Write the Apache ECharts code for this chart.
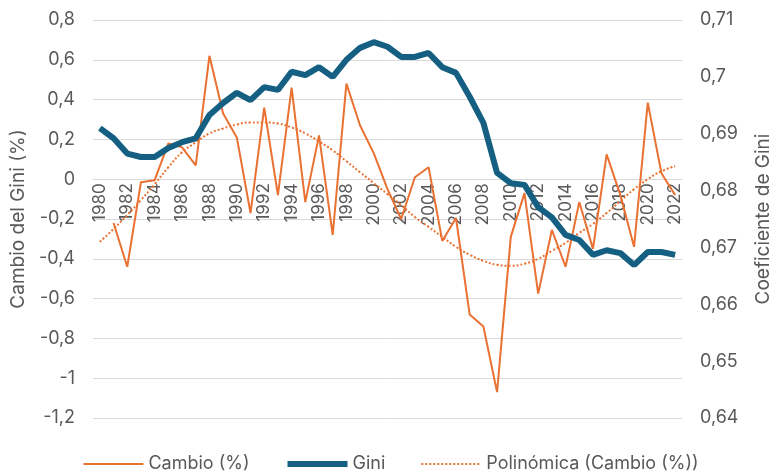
<!DOCTYPE html>
<html>
<head>
<meta charset="utf-8">
<script src="https://cdn.jsdelivr.net/npm/echarts@6/dist/echarts.min.js"></script>
<style>
html,body{margin:0;padding:0;background:#fff;}
#c{width:781px;height:473px;}
</style>
</head>
<body>
<div id="c"></div>
<script>
const years = ['1980','1981','1982','1983','1984','1985','1986','1987','1988','1989','1990','1991','1992','1993','1994','1995','1996','1997','1998','1999','2000','2001','2002','2003','2004','2005','2006','2007','2008','2009','2010','2011','2012','2013','2014','2015','2016','2017','2018','2019','2020','2021','2022'];

const cambio = [null,-0.22,-0.44,-0.015,-0.005,0.18,0.16,0.07,0.62,0.33,0.21,-0.17,0.36,-0.08,0.46,-0.115,0.22,-0.28,0.48,0.27,0.13,-0.05,-0.2,0.01,0.06,-0.31,-0.195,-0.68,-0.74,-1.07,-0.29,-0.07,-0.575,-0.255,-0.44,-0.115,-0.35,0.125,-0.08,-0.34,0.385,0.03,-0.08];

const gini = [0.6910,0.6892,0.6865,0.6859,0.6859,0.6875,0.6885,0.6892,0.6933,0.6954,0.6972,0.6959,0.6982,0.6977,0.7009,0.7003,0.7017,0.7000,0.7030,0.7051,0.7061,0.7053,0.7035,0.7035,0.7042,0.7017,0.7007,0.6965,0.6919,0.6831,0.6813,0.6810,0.6771,0.6753,0.6722,0.6713,0.6687,0.6695,0.6690,0.6669,0.6692,0.6692,0.6687];

const trend = [-0.315,-0.25,-0.18,-0.105,-0.025,0.06,0.135,0.185,0.23,0.255,0.275,0.285,0.285,0.28,0.26,0.23,0.19,0.145,0.09,0.035,-0.02,-0.075,-0.13,-0.19,-0.24,-0.29,-0.34,-0.38,-0.41,-0.43,-0.435,-0.425,-0.40,-0.36,-0.32,-0.27,-0.225,-0.17,-0.11,-0.05,0.0,0.04,0.065];

const ORANGE = '#E97132';
const BLUE = '#156082';
const TXT = '#595959';
const FONT = 'Inter';
const HIDE = { color: 'rgba(0,0,0,0)', borderWidth: 0, opacity: 0 };

const LEFT_MIN = -1.2, LEFT_MAX = 0.8;
const GRID = { left: 93, right: 91, top: 20, bottom: 55 };
const plotH = 473 - GRID.top - GRID.bottom;
// move the category axis up to the zero line of the left axis
const zeroOffset = -((0 - LEFT_MIN) / (LEFT_MAX - LEFT_MIN)) * plotH;

function comma(v, d) {
  return String(+(+v).toFixed(d)).replace('.', ',');
}

const chart = echarts.init(document.getElementById('c'));
chart.setOption({
  animation: false,
  textStyle: { fontFamily: FONT },
  grid: Object.assign({ containLabel: false }, GRID),
  legend: {
    bottom: 0,
    left: 'center',
    padding: 0,
    itemWidth: 60,
    itemHeight: 14,
    itemGap: 35,
    textStyle: { color: TXT, fontSize: 18, fontFamily: FONT },
    data: [
      { name: 'Cambio (%)', itemStyle: HIDE, lineStyle: { width: 2 } },
      { name: 'Gini', itemStyle: HIDE, lineStyle: { width: 6 } },
      { name: 'Polinómica (Cambio (%))', itemStyle: HIDE, lineStyle: { width: 2, type: 'dotted' } }
    ]
  },
  xAxis: {
    type: 'category',
    data: years,
    boundaryGap: true,
    position: 'bottom',
    offset: zeroOffset,
    axisLine: { show: true, onZero: false, lineStyle: { color: '#D9D9D9' } },
    axisTick: { show: false },
    axisLabel: { interval: 1, rotate: 90, color: TXT, fontSize: 17, margin: 4, fontFamily: FONT },
    splitLine: { show: false },
    z: 1
  },
  yAxis: [
    {
      type: 'value',
      min: LEFT_MIN, max: LEFT_MAX, interval: 0.2,
      name: 'Cambio del Gini (%)',
      nameLocation: 'middle',
      nameGap: 65,
      nameTextStyle: { color: TXT, fontSize: 19, fontFamily: FONT },
      axisLine: { show: false },
      axisTick: { show: false },
      axisLabel: { color: TXT, fontSize: 18, margin: 18, formatter: v => comma(v, 1), fontFamily: FONT },
      splitLine: { show: true, lineStyle: { color: '#D9D9D9', width: 1 } }
    },
    {
      type: 'value',
      min: 0.64, max: 0.71, interval: 0.01,
      name: 'Coeficiente de Gini',
      nameLocation: 'middle',
      nameGap: 72,
      nameRotate: 90,
      nameTextStyle: { color: TXT, fontSize: 19, fontFamily: FONT },
      axisLine: { show: false },
      axisTick: { show: false },
      axisLabel: { color: TXT, fontSize: 18, margin: 18, formatter: v => comma(v, 2), fontFamily: FONT },
      splitLine: { show: false }
    }
  ],
  series: [
    {
      name: 'Cambio (%)', type: 'line', yAxisIndex: 0, data: cambio,
      symbol: 'none', connectNulls: false,
      lineStyle: { color: ORANGE, width: 2 }, itemStyle: { color: ORANGE }, z: 3
    },
    {
      name: 'Gini', type: 'line', yAxisIndex: 1, data: gini,
      symbol: 'none',
      lineStyle: { color: BLUE, width: 6 }, itemStyle: { color: BLUE }, z: 4
    },
    {
      name: 'Polinómica (Cambio (%))', type: 'line', yAxisIndex: 0, data: trend,
      symbol: 'none', smooth: true,
      lineStyle: { color: ORANGE, width: 2, type: 'dotted' }, itemStyle: { color: ORANGE }, z: 2
    }
  ]
});
</script>
</body>
</html>
